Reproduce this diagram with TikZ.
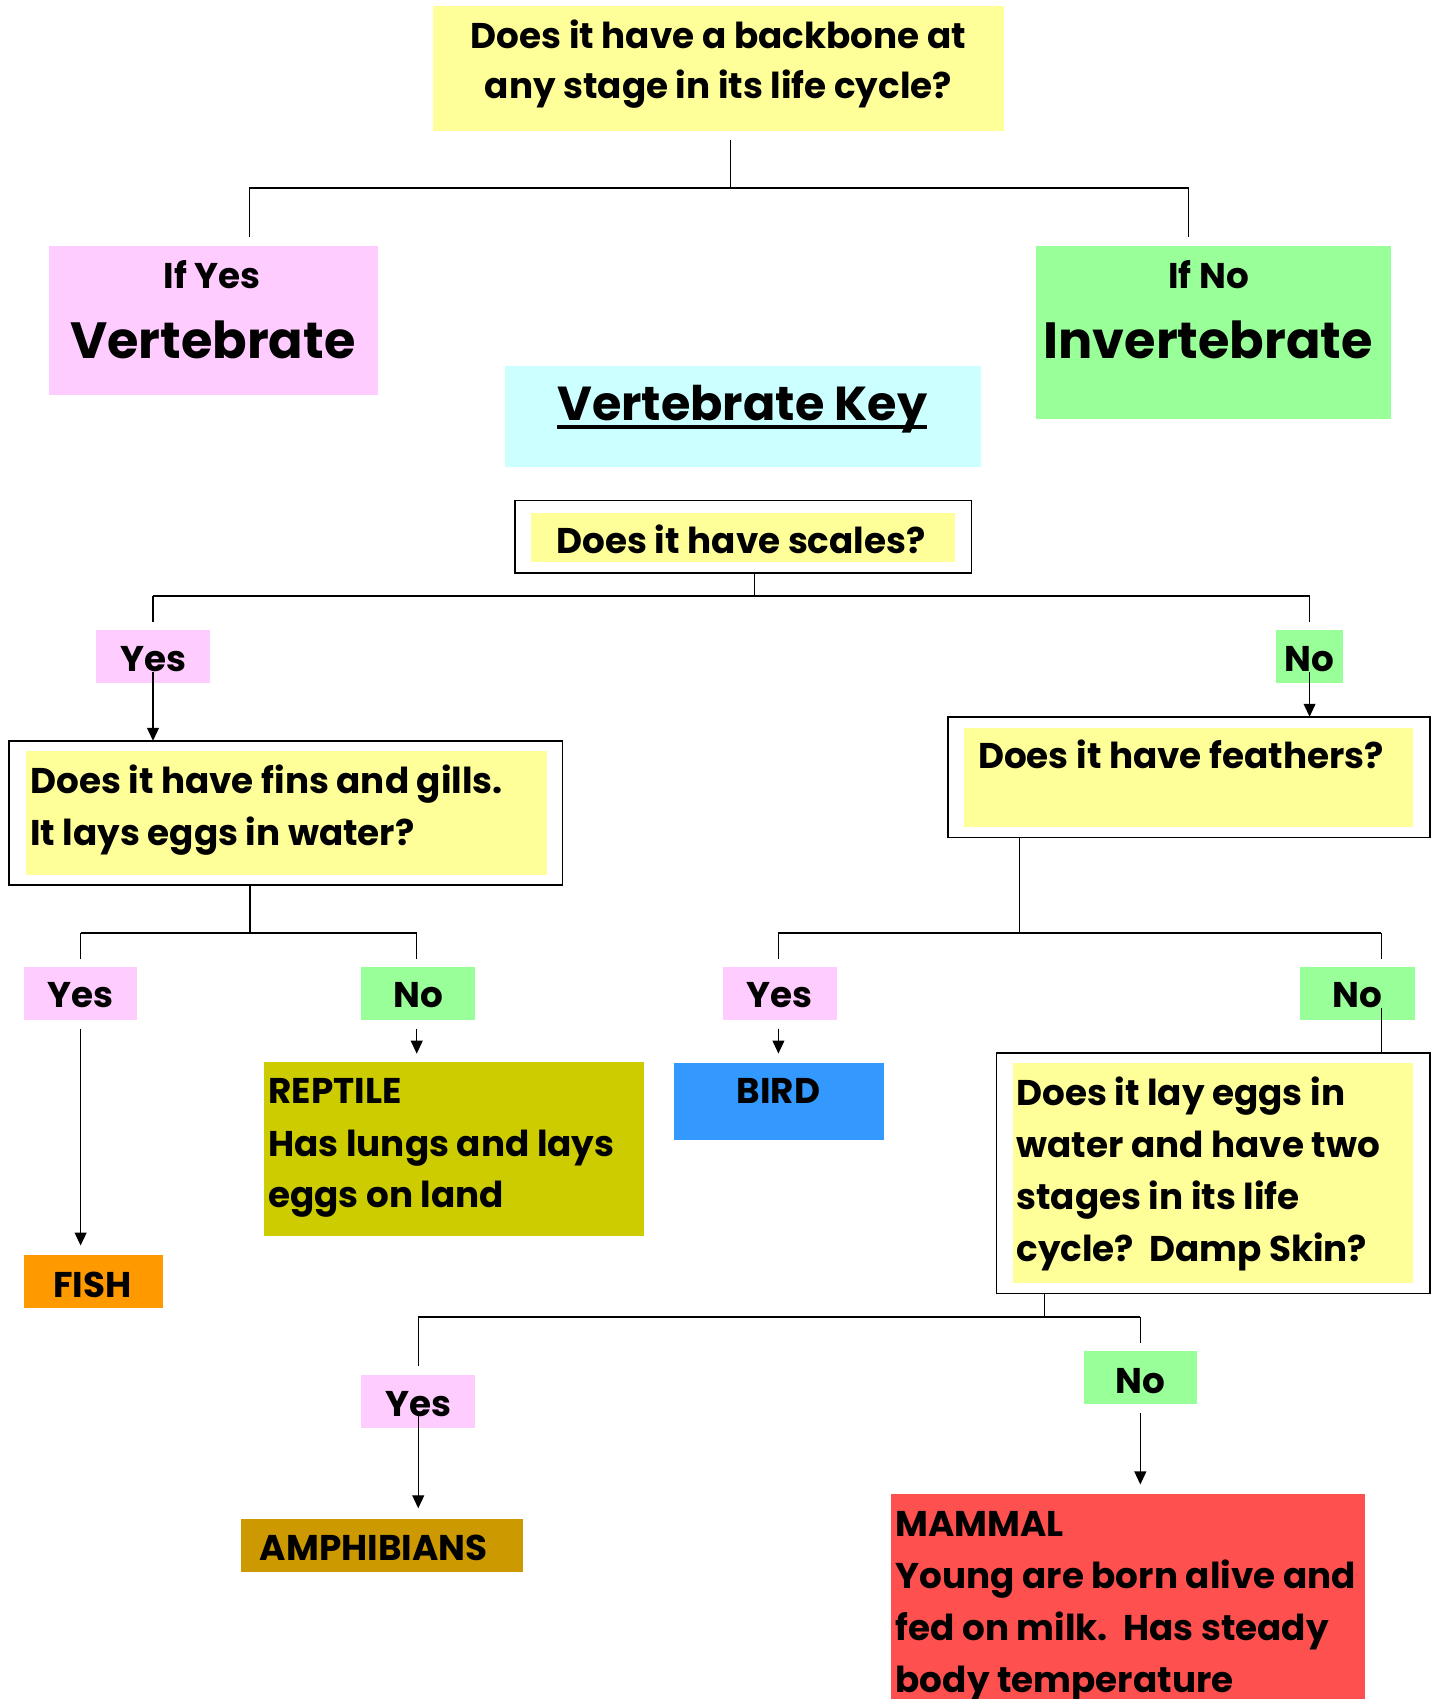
\documentclass[tikz,border=0pt]{standalone}
\usepackage{fontspec}
\setmainfont{Poppins}
\usetikzlibrary{arrows.meta}
\definecolor{cyel}{HTML}{FFFF99}
\definecolor{cpink}{HTML}{FFCCFF}
\definecolor{cgreen}{HTML}{99FF99}
\definecolor{ccyan}{HTML}{CCFFFF}
\definecolor{colive}{HTML}{CCCC00}
\definecolor{cblue}{HTML}{3399FF}
\definecolor{corange}{HTML}{FF9900}
\definecolor{camber}{HTML}{CC9900}
\definecolor{cred}{HTML}{FF5050}
\tikzset{
  box/.style={draw=none, inner sep=0pt, outer sep=0pt, anchor=north west},
  frame/.style={draw=black, fill=white, line width=1.6pt, inner sep=0pt, outer sep=0pt, anchor=north west},
  txt/.style={inner sep=0pt, outer sep=0pt, font=\bfseries\fontsize{33}{48}\selectfont, anchor=base},
  txtl/.style={txt, anchor=base west},
  big/.style={inner sep=0pt, outer sep=0pt, font=\bfseries\fontsize{47}{56}\selectfont, anchor=base},
  keytxt/.style={big, font=\bfseries\fontsize{44}{56}\selectfont},
  conn/.style={line width=1.1pt, draw=black},
  bar/.style={line width=1.8pt, draw=black},
  arr/.style={line width=1.1pt, draw=black, -{Triangle[length=12pt,width=11pt]}},
}
\newcommand{\boxat}[6]{% name, color, x1, y1, x2, y2
  \node[box, fill=#2, minimum width={(#5-#3)*1pt}, minimum height={(#6-#4)*1pt}] (#1) at (#3,#4) {};}
\newcommand{\frameat}[5]{% name, x1, y1, x2, y2
  \node[frame, minimum width={(#4-#2)*1pt}, minimum height={(#5-#3)*1pt}] (#1) at (#2,#3) {};}
\begin{document}
\begin{tikzpicture}[x=1pt,y=-1pt]
\useasboundingbox (0,0) rectangle (1321,1568);
% ---------- boxes ----------
\boxat{top}{cyel}{400}{5.5}{927}{121}
\boxat{ifyes}{cpink}{45}{227}{349}{364.5}
\boxat{ifno}{cgreen}{956}{227}{1284}{386.5}
\boxat{vkey}{ccyan}{466}{338}{905}{431}
\frameat{scalesF}{475}{462}{896.7}{529}
\boxat{scales}{cyel}{490}{473}{881.6}{519}
\boxat{yesA}{cpink}{88.8}{581.6}{193.6}{630}
\boxat{noA}{cgreen}{1178}{581.6}{1239}{630}
\frameat{finsF}{8.5}{683.7}{519}{817}
\boxat{fins}{cyel}{23.7}{693}{504.6}{807.7}
\frameat{featF}{874.8}{661.5}{1320}{773}
\boxat{feat}{cyel}{890}{672}{1304}{763}
\boxat{yesB}{cpink}{22}{892.6}{126.8}{941.3}
\boxat{noB}{cgreen}{333}{892.6}{438.7}{941.3}
\boxat{yesC}{cpink}{667}{892.6}{772.5}{941.3}
\boxat{noC}{cgreen}{1200}{892.6}{1306}{941.3}
\boxat{rept}{colive}{244}{980.4}{594}{1140.7}
\boxat{bird}{cblue}{622}{981.3}{815.6}{1052}
\frameat{layF}{919.6}{971.7}{1320}{1193.8}
\boxat{lay}{cyel}{934.8}{981.3}{1304}{1184}
\boxat{fish}{corange}{22}{1158.5}{150.5}{1207}
\boxat{yesD}{cpink}{333}{1269}{438.7}{1318}
\boxat{noD}{cgreen}{1000}{1247}{1104.7}{1295.8}
\boxat{amph}{camber}{222.3}{1402}{482.6}{1451}
\boxat{mam}{cred}{822.4}{1379}{1260}{1568}
% ---------- texts ----------
\node[txt] (t1a) at (663,45) {Does it have a backbone at};
\node[txt] (t1b) at (663,91) {any stage in its life cycle?};
\node[txt] (tifyes) at (196,266) {If Yes};
\node[big] (tvert) at (196.5,331) {Vertebrate};
\node[txt] (tifno) at (1115.5,266) {If No};
\node[big] (tinv) at (1115,331) {Invertebrate};
\node[keytxt] (tvk) at (685,388) {Vertebrate Key};
\draw[line width=3.7pt] ([yshift=-6.5pt]tvk.base west) -- ([yshift=-6.5pt]tvk.base east);
\node[txt] (tsc) at (684,511) {Does it have scales?};
\node[txt] (tyA) at (141.2,620) {Yes};
\node[txt] (tnA) at (1208.5,620) {No};
\node[txtl] (tfa) at (27.9,732) {Does it have fins and gills.};
\node[txtl] (tfb) at (27.9,780) {It lays eggs in water?};
\node[txtl] (tfe) at (902.7,709) {Does it have feathers?};
\node[txt] (tyB) at (74.4,930) {Yes};
\node[txt] (tnB) at (385.8,930) {No};
\node[txt] (tyC) at (719.7,930) {Yes};
\node[txt] (tnC) at (1253,930) {No};
\node[txtl] (tra) at (247.7,1018) {REPTILE};
\node[txtl] (trb) at (247.7,1067) {Has lungs and lays};
\node[txtl] (trc) at (247.7,1114) {eggs on land};
\node[txt] (tbird) at (718.4,1018) {BIRD};
\node[txtl] (tla) at (938,1020) {Does it lay eggs in};
\node[txtl] (tlb) at (938,1068) {water and have two};
\node[txtl] (tlc) at (938,1116) {stages in its life};
\node[txtl] (tld) at (938,1164) {cycle?~~Damp Skin?};
\node[txt] (tfish) at (85.4,1197) {FISH};
\node[txt] (tyD) at (386,1307) {Yes};
\node[txt] (tnD) at (1052.4,1286) {No};
\node[txt] (tamph) at (344.8,1440) {AMPHIBIANS};
\node[txtl] (tma) at (826.6,1418) {MAMMAL};
\node[txtl] (tmb) at (826.6,1466) {Young are born alive and};
\node[txtl] (tmc) at (826.6,1514) {fed on milk.~~Has steady};
\node[txtl] (tmd) at (826.6,1562) {body temperature};
% ---------- junction coordinates ----------
\coordinate (j1) at (674.5,173.5);
\coordinate (j1l) at (230,173.5);
\coordinate (j1r) at (1097,173.5);
\coordinate (j2) at (696.4,550);
\coordinate (j2l) at (141.2,550);
\coordinate (j2r) at (1208.6,550);
\coordinate (j3) at (230.7,861);
\coordinate (j3l) at (74.4,861);
\coordinate (j3r) at (384.6,861);
\coordinate (j4) at (940.7,861);
\coordinate (j4l) at (718.4,861);
\coordinate (j4r) at (1274.6,861);
\coordinate (j5) at (964,1215.5);
\coordinate (j5l) at (386,1215.5);
\coordinate (j5r) at (1052.4,1215.5);
% ---------- connectors ----------
% top
\draw[conn] ([yshift=-8pt]top.south -| j1) -- (j1);
\draw[bar] (j1l) -- (j1r);
\draw[conn] (j1l) -- ([yshift=8pt]ifyes.north -| j1l);
\draw[conn] (j1r) -- ([yshift=8pt]ifno.north -| j1r);
% scales
\draw[conn] (scalesF.south -| j2) -- (j2);
\draw[bar] (j2l) -- (j2r);
\draw[conn] (j2l) -- ([yshift=8pt]yesA.north -| j2l);
\draw[conn] (j2r) -- ([yshift=8pt]noA.north -| j2r);
\draw[arr] (tyA.base -| j2l) -- (finsF.north -| j2l);
\draw[arr] (tnA.base -| j2r) -- (featF.north -| j2r);
% fins
\draw[conn] (finsF.south -| j3) -- (j3);
\draw[bar] (j3l) -- (j3r);
\draw[conn] (j3l) -- ([yshift=8pt]yesB.north -| j3l);
\draw[conn] (j3r) -- ([yshift=8pt]noB.north -| j3r);
\draw[arr] ([yshift=-8pt]yesB.south -| j3l) -- ([yshift=9pt]fish.north -| j3l);
\draw[arr] ([yshift=-8pt]noB.south -| j3r) -- ([yshift=8pt]rept.north -| j3r);
% feathers
\draw[conn] (featF.south -| j4) -- (j4);
\draw[bar] (j4l) -- (j4r);
\draw[conn] (j4l) -- ([yshift=8pt]yesC.north -| j4l);
\draw[conn] (j4r) -- ([yshift=8pt]noC.north -| j4r);
\draw[arr] ([yshift=-8pt]yesC.south -| j4l) -- ([yshift=9pt]bird.north -| j4l);
\draw[conn] (tnC.base -| j4r) -- (layF.north -| j4r);
% lay eggs
\draw[conn] (layF.south -| j5) -- (j5);
\draw[bar] (j5l) -- (j5r);
\draw[conn] (j5l) -- ([yshift=8pt]yesD.north -| j5l);
\draw[conn] (j5r) -- ([yshift=8pt]noD.north -| j5r);
\draw[arr] (tyD.base -| j5l) -- ([yshift=10pt]amph.north -| j5l);
\draw[arr] ([yshift=-8pt]noD.south -| j5r) -- ([yshift=9pt]mam.north -| j5r);
\end{tikzpicture}
\end{document}
